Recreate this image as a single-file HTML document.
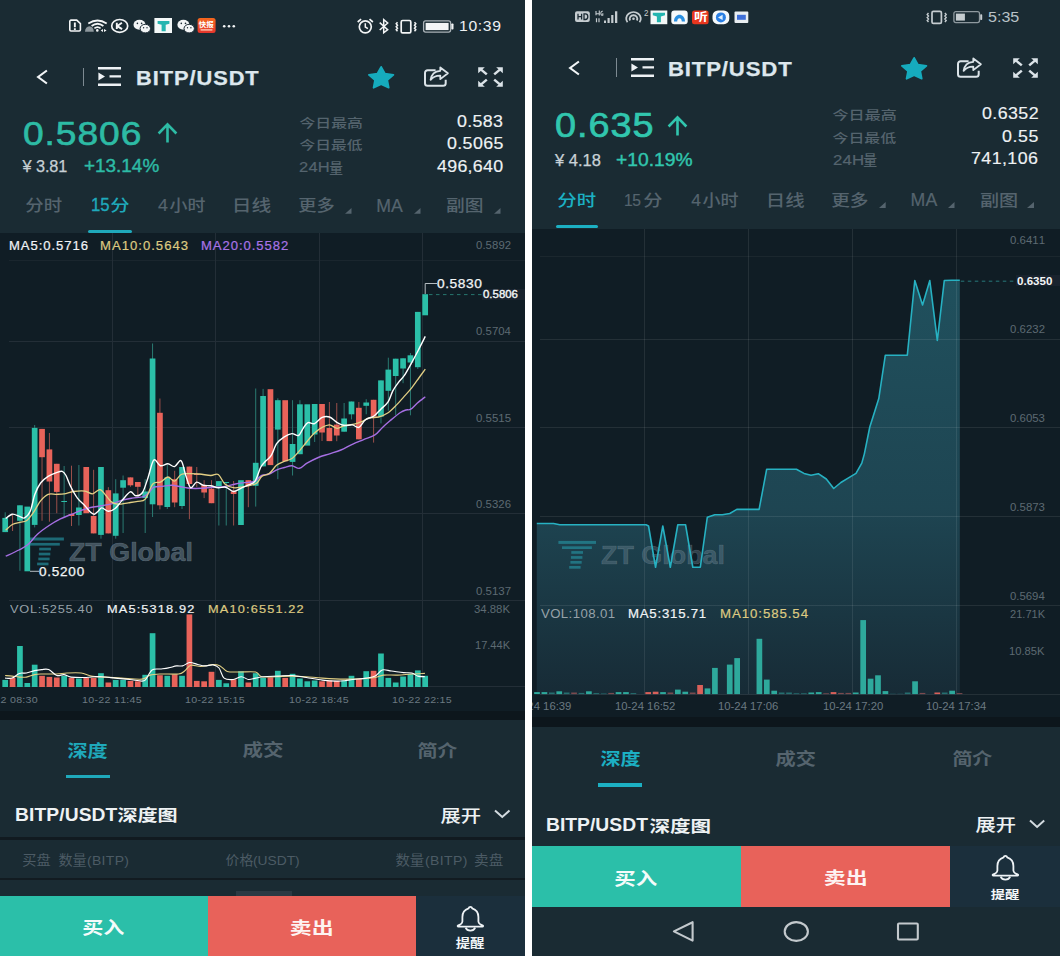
<!DOCTYPE html>
<html lang="zh"><head><meta charset="utf-8"><title>BITP/USDT</title>
<style>
html,body{margin:0;padding:0}
body{width:1060px;height:956px;position:relative;overflow:hidden;background:#fff;font-family:"Liberation Sans",sans-serif;font-kerning:none}
.phone{position:absolute;top:0;height:956px;overflow:hidden}
.t{position:absolute;white-space:pre;line-height:1;margin:0}
.r,.s,.c{position:absolute;display:block}
.s,.c{overflow:visible}
.c text{font-family:"Liberation Sans","Noto Sans CJK SC",sans-serif}
</style></head>
<body>
<div class="phone" id="left" style="left:0;width:525px">
<div class="r" style="left:0px;top:0px;width:525px;height:956px;background:#1a2b33;"></div>
<svg class="s" style="left:67px;top:18px;" width="170" height="16"><path d="M4 2.100h5.700l3.700 3.500v6.200a1.200 1.200 0 0 1-1.200 1.200H4a1.200 1.200 0 0 1-1.200-1.200V3.300A1.200 1.200 0 0 1 4 2.100z" fill="none" stroke="#f3f5f6" stroke-width="1.600"/><path d="M6.900 4.400h1.900v4.800H6.900zM6.900 10.200h1.900v1.700H6.900z" fill="#f3f5f6"/><g fill="none" stroke="#f3f5f6" stroke-width="1.800"><path d="M21.300 5.400Q30.500-.4 39.700 5.400"/><path d="M24.600 8Q30.500 3.400 36.400 8"/><path d="M27.400 10.400Q30.500 7.800 33.600 10.400" stroke-width="1.600"/></g><circle cx="30.300" cy="12.400" r="1.300" fill="#f3f5f6"/><path d="M18 13.800a4.400 5.600 0 0 1 8.800 0z" fill="#8d979d"/><path d="M36 10.900v3l-2.300-1.500zM37 10.900v3l2.600-1.500z" fill="#f3f5f6"/><ellipse cx="52.700" cy="7.900" rx="8" ry="6.400" fill="none" stroke="#f3f5f6" stroke-width="1.700"/><path d="M49.800 4.700v6.400M54.900 4.700l-4.600 3.400 4.800 3" fill="none" stroke="#f3f5f6" stroke-width="1.900"/><ellipse cx="72.500" cy="6.700" rx="6" ry="5" fill="#f3f5f6"/><ellipse cx="78.300" cy="10.600" rx="5.200" ry="4.300" fill="#f3f5f6" stroke="#1b2a34" stroke-width="1"/><circle cx="70.400" cy="5.400" r=".8" fill="#1b2a34"/><circle cx="74.600" cy="5.400" r=".8" fill="#1b2a34"/><circle cx="76.600" cy="9.700" r=".7" fill="#1b2a34"/><circle cx="80" cy="9.700" r=".7" fill="#1b2a34"/><rect x="87.400" y="0" width="17.600" height="15" fill="#f4f8f8"/><path d="M90.600 3.100h11.800v2.700l-3.700 1v6.400h-4.100V6.800l-4-1z" fill="#25b5b0"/><ellipse cx="116.400" cy="6.700" rx="6" ry="5" fill="#f3f5f6"/><ellipse cx="122.200" cy="10.600" rx="5.200" ry="4.300" fill="#f3f5f6" stroke="#1b2a34" stroke-width="1"/><circle cx="114.300" cy="5.400" r=".8" fill="#1b2a34"/><circle cx="118.500" cy="5.400" r=".8" fill="#1b2a34"/><circle cx="120.500" cy="9.700" r=".7" fill="#1b2a34"/><circle cx="123.900" cy="9.700" r=".7" fill="#1b2a34"/><defs><linearGradient id="og" x1="0" y1="0" x2="0" y2="1"><stop offset="0" stop-color="#f4671d"/><stop offset="1" stop-color="#e5352c"/></linearGradient></defs><rect x="130.600" y="0" width="18" height="15" rx="2.500" fill="url(#og)"/><rect x="133.600" y="11.200" width="11.800" height="1.400" fill="#fbc9b6"/><circle cx="157.200" cy="8.200" r="1.300" fill="#f3f5f6"/><circle cx="162" cy="8.200" r="1.300" fill="#f3f5f6"/><circle cx="166.800" cy="8.200" r="1.300" fill="#f3f5f6"/></svg>
<svg class="s" style="left:356px;top:17px;" width="100" height="18"><circle cx="9.300" cy="9.800" r="6" fill="none" stroke="#f3f5f6" stroke-width="1.700"/><path d="M9.300 6.300v3.700l2.600 1.600" fill="none" stroke="#f3f5f6" stroke-width="1.500"/><path d="M1.700 5l3.400-2.800M16.900 5l-3.400-2.800" stroke="#f3f5f6" stroke-width="1.700"/><path d="M23.700 5.600l8 7-4 3.200V2.700l4 3.300-8 7" fill="none" stroke="#f3f5f6" stroke-width="1.500"/><rect x="45.200" y="3.500" width="9.600" height="12.400" rx="1.400" fill="none" stroke="#f3f5f6" stroke-width="1.700"/><path d="M41.500 5.300l-1.300 1.500 1.300 1.500-1.300 1.500 1.300 1.500-1.300 1.500 1.300 1.500M58.500 5.300l1.300 1.500-1.300 1.500 1.300 1.500-1.300 1.500 1.300 1.500-1.300 1.500" fill="none" stroke="#f3f5f6" stroke-width="1.500"/><rect x="67.600" y="3.900" width="27" height="11.200" rx="2" fill="none" stroke="#aab3b8" stroke-width="1.300"/><rect x="69.600" y="5.900" width="23" height="7.200" fill="#f3f5f6"/><rect x="95.300" y="6.500" width="2.200" height="6" rx=".8" fill="#f3f5f6"/></svg>
<svg class="c" role="img" aria-label="快报" style="left:198.3px;top:20.3px" width="16.600" height="8.600" fill="#fff"><text x="0.870" y="6.940" font-size="7" font-weight="700" textLength="14.900" lengthAdjust="spacingAndGlyphs">快报</text></svg>
<span class="t" style="left:458.6px;top:19px;font-size:14.3px;color:#eef1f3;letter-spacing:0.59px;transform:scaleX(1.100);transform-origin:0 0;">10:39</span>
<svg class="s" style="left:33.8px;top:66.7px;" width="16" height="20"><path d="M12.900 3.500 4.100 10l8.800 6.500" fill="none" stroke="#f2f5f7" stroke-width="2.100"/></svg>
<div class="r" style="left:82.8px;top:67.6px;width:1px;height:18.6px;background:#7d8a92;"></div>
<svg class="s" style="left:98px;top:66.8px;" width="23" height="19"><path d="M0 0h23v2.400H0zM11.500 8.200H23v2.400H11.500zM0 16.500h23v2.400H0zM.4 5.400l6.600 4-6.600 4.100z" fill="#eef2f5"/></svg>
<span class="t" style="left:135.84px;top:68px;font-size:20.4px;color:#dde7ed;letter-spacing:0.88px;font-weight:700;transform:scaleX(1.070);transform-origin:0 0;-webkit-text-stroke:.25px #dde7ed;">BITP/USDT</span>
<svg class="s" style="left:367.7px;top:65.7px;" width="26.3" height="22.6"><polygon points="13.15,0.9 16.94,7.75 25.4,8.84 19.28,14.17 20.72,21.7 13.15,18.15 5.58,21.7 7.02,14.17 0.9,8.84 9.36,7.75" fill="#16abbd" stroke="#16abbd" stroke-width="1.8" stroke-linejoin="round"/></svg>
<svg class="s" style="left:423.5px;top:65.8px;" width="26" height="21"><path d="M11.600 4.300H3.600A2.600 2.600 0 0 0 1 6.900v10.300a2.600 2.600 0 0 0 2.600 2.600h15.500a2.600 2.600 0 0 0 2.600-2.600v-3.400" fill="none" stroke="#dbe3e8" stroke-width="2"/><path d="M16.300 1.500l7.600 5.800-7.600 5.800v-3.500c-4.200-.1-7.200 1.100-9.700 4.300.7-5.300 4-8.700 9.700-9.100z" fill="none" stroke="#dbe3e8" stroke-width="1.800" stroke-linejoin="round"/></svg>
<svg class="s" style="left:478.3px;top:67px;" width="25" height="20"><g fill="#dbe3e8" stroke="#dbe3e8" stroke-width="2.500"><path d="M2.800 2.400l6 5" fill="none"/><path d="M.2.200h6.600L.2 6.300z" stroke="none"/><path d="M22.200 2.400l-6 5" fill="none"/><path d="M24.800.2h-6.600l6.600 6.100z" stroke="none"/><path d="M2.800 17.600l6-5" fill="none"/><path d="M.2 19.800h6.600L.2 13.700z" stroke="none"/><path d="M22.200 17.600l-6-5" fill="none"/><path d="M24.800 19.800h-6.600l6.600-6.100z" stroke="none"/></g></svg>
<span class="t" style="left:23.05px;top:117px;font-size:33.8px;color:#2dbba5;letter-spacing:0.85px;transform:scaleX(1.100);transform-origin:0 0;-webkit-text-stroke:.65px #2dbba5;">0.5806</span>
<svg class="s" style="left:156.6px;top:121.6px;" width="21" height="21.4"><path d="M10.500 20.600V2.600M1.600 11.500L10.500 2.400 19.400 11.500" fill="none" stroke="#2dbba5" stroke-width="2.600"/></svg>
<span class="t" style="left:22.62px;top:158px;font-size:16.3px;color:#c7d0d5;letter-spacing:-0.11px;-webkit-text-stroke:.25px #c7d0d5;">¥ 3.81</span>
<span class="t" style="left:83.88px;top:158px;font-size:17.5px;color:#2dbba5;transform:scaleX(1.081);transform-origin:0 0;-webkit-text-stroke:.4px #2dbba5;">+13.14%</span>
<svg class="c" role="img" aria-label="今日最高" style="left:298.8px;top:116px" width="64" height="13.600" fill="#55646e"><text x="0.520" y="11.520" font-size="12.300" font-weight="500" textLength="63.400" lengthAdjust="spacingAndGlyphs">今日最高</text></svg>
<svg class="c" role="img" aria-label="今日最低" style="left:298.8px;top:138.4px" width="64" height="13.600" fill="#55646e"><text x="0.530" y="11.500" font-size="12.300" font-weight="500" textLength="62.900" lengthAdjust="spacingAndGlyphs">今日最低</text></svg>
<span class="t" style="left:299.17px;top:159px;font-size:15px;color:#55646e;letter-spacing:0.23px;transform:scaleX(1.100);transform-origin:0 0;-webkit-text-stroke:.2px #55646e;">24H</span>
<svg class="c" role="img" aria-label="量" style="left:329.3px;top:160.6px" width="14.500" height="13.400" fill="#55646e"><text x="0.370" y="11.620" font-size="13.100" font-weight="500" textLength="13.700" lengthAdjust="spacingAndGlyphs">量</text></svg>
<span class="t" style="left:457.1px;top:113px;font-size:16.2px;color:#eef2f4;letter-spacing:0.31px;transform:scaleX(1.100);transform-origin:0 0;-webkit-text-stroke:.15px #eef2f4;">0.583</span>
<span class="t" style="left:446.6px;top:135px;font-size:16.2px;color:#eef2f4;letter-spacing:0.35px;transform:scaleX(1.100);transform-origin:0 0;-webkit-text-stroke:.15px #eef2f4;">0.5065</span>
<span class="t" style="left:436.89px;top:158px;font-size:16.2px;color:#eef2f4;letter-spacing:0.26px;transform:scaleX(1.100);transform-origin:0 0;-webkit-text-stroke:.15px #eef2f4;">496,640</span>
<svg class="c" role="img" aria-label="分时" style="left:25.3px;top:197px" width="37.500" height="16.400" fill="#55646e"><text x="0.280" y="14.050" font-size="15.600" font-weight="500" textLength="36.800" lengthAdjust="spacingAndGlyphs">分时</text></svg>
<span class="t" style="left:90.73px;top:197px;font-size:17.7px;color:#1fa9bb;transform:scaleX(0.943);transform-origin:0 0;-webkit-text-stroke:.35px #1fa9bb;">15</span>
<svg class="c" role="img" aria-label="分" style="left:110.3px;top:197px" width="19.900" height="16.400" fill="#1fa9bb"><text x="0.250" y="14.030" font-size="15.700" font-weight="500" textLength="19.300" lengthAdjust="spacingAndGlyphs">分</text></svg>
<span class="t" style="left:158.39px;top:197px;font-size:17.4px;color:#55646e;transform:scaleX(1.026);transform-origin:0 0;-webkit-text-stroke:.2px #55646e;">4</span>
<svg class="c" role="img" aria-label="小时" style="left:169.2px;top:197px" width="36.800" height="16.400" fill="#55646e"><text x="0.500" y="14.090" font-size="15.600" font-weight="500" textLength="35.900" lengthAdjust="spacingAndGlyphs">小时</text></svg>
<svg class="c" role="img" aria-label="日线" style="left:234.3px;top:197px" width="37.500" height="16.400" fill="#55646e"><text x="-2.290" y="14.130" font-size="15.500" font-weight="500" textLength="39.400" lengthAdjust="spacingAndGlyphs">日线</text></svg>
<svg class="c" role="img" aria-label="更多" style="left:298.3px;top:197px" width="36.700" height="16.400" fill="#55646e"><text x="0.220" y="14.070" font-size="15.400" font-weight="500" textLength="36.400" lengthAdjust="spacingAndGlyphs">更多</text></svg>
<span class="t" style="left:376.35px;top:198px;font-size:17.7px;color:#55646e;letter-spacing:-0.06px;-webkit-text-stroke:.2px #55646e;">MA</span>
<svg class="c" role="img" aria-label="副图" style="left:446.3px;top:197px" width="37" height="16.400" fill="#55646e"><text x="0.010" y="14.050" font-size="15.800" font-weight="500" textLength="37.500" lengthAdjust="spacingAndGlyphs">副图</text></svg>
<svg class="s" style="left:344.5px;top:207.5px;" width="6.5" height="5.7"><path d="M6.500 0V5.700H0Z" fill="#55646e"/></svg>
<svg class="s" style="left:414px;top:207.5px;" width="6.5" height="5.7"><path d="M6.500 0V5.700H0Z" fill="#55646e"/></svg>
<svg class="s" style="left:493.5px;top:207.5px;" width="6.5" height="5.7"><path d="M6.500 0V5.700H0Z" fill="#55646e"/></svg>
<div class="r" style="left:88px;top:230.2px;width:44px;height:3px;background:#1fa9bb;border-radius:1.5px;"></div>
<div class="r" style="left:0px;top:233px;width:525px;height:478.2px;background:#101d25;"></div>
<div class="r" style="left:0px;top:711.2px;width:525px;height:8.8px;background:#0d161c;"></div>
<svg class="s" style="left:0px;top:233px;" width="525" height="478" viewBox="0 233 525 478"><g stroke="#232e37" stroke-width="1" shape-rendering="crispEdges"><path d="M112 233V686.8"/><path d="M215.500 233V686.8"/><path d="M319.200 233V686.8"/><path d="M422.300 233V686.8"/><path d="M8.500 341H525"/><path d="M8.500 427.300H525"/><path d="M8.500 513.600H525"/><path d="M8.500 600.300H525"/><path d="M8.500 686.800H525"/><path d="M8.500 260.300H525" opacity=".55"/></g><rect x="26.300" y="537.500" width="37.600" height="3" fill="rgba(40,170,185,0.55)"/><rect x="29.900" y="542.900" width="29.900" height="2.700" fill="rgba(40,170,185,0.55)"/><rect x="39.200" y="547.700" width="11.700" height="2.700" fill="rgba(40,170,185,0.55)"/><rect x="38.800" y="552.700" width="11.500" height="2.700" fill="rgba(40,170,185,0.55)"/><rect x="38.300" y="557.600" width="11.300" height="2.700" fill="rgba(40,170,185,0.55)"/><rect x="37.100" y="562.600" width="11.400" height="2.700" fill="rgba(40,170,185,0.55)"/><text x="68.900" y="561.100" font-family="Liberation Sans, sans-serif" font-weight="700" font-size="25.500" textLength="124" lengthAdjust="spacingAndGlyphs" fill="rgba(140,160,175,0.42)" stroke="rgba(140,160,175,0.42)" stroke-width=".6">ZT Global</text><path d="M5.200 512.300V532.100" stroke="#2a7a72" stroke-width="1"/><rect x="2.350" y="517.900" width="5.700" height="14.200" fill="#2bbfa8"/><path d="M12.570 515V531" stroke="#9a4f4a" stroke-width="1"/><path d="M19.940 505.300V570.800" stroke="#2a7a72" stroke-width="1"/><rect x="17.090" y="505.300" width="5.700" height="15.500" fill="#2bbfa8"/><rect x="24.450" y="506.600" width="5.700" height="64.700" fill="#2bbfa8"/><path d="M34.670 425V527.400" stroke="#2a7a72" stroke-width="1"/><rect x="31.820" y="427.900" width="5.700" height="97" fill="#2bbfa8"/><path d="M42.040 428.900V520.800" stroke="#9a4f4a" stroke-width="1"/><rect x="39.190" y="428.900" width="5.700" height="28.300" fill="#e8635a"/><path d="M49.410 433V521.700" stroke="#9a4f4a" stroke-width="1"/><rect x="46.560" y="449.400" width="5.700" height="32.100" fill="#e8635a"/><path d="M56.780 463.800V513.200" stroke="#9a4f4a" stroke-width="1"/><rect x="53.930" y="463.800" width="5.700" height="28.100" fill="#e8635a"/><path d="M64.140 466V517" stroke="#2a7a72" stroke-width="1"/><rect x="61.290" y="501" width="5.700" height="1" fill="#2bbfa8"/><path d="M71.510 465.700V526" stroke="#9a4f4a" stroke-width="1"/><rect x="68.660" y="514" width="5.700" height="2" fill="#e8635a"/><path d="M78.880 465V525.500" stroke="#2a7a72" stroke-width="1"/><rect x="76.030" y="507.500" width="5.700" height="7.500" fill="#2bbfa8"/><rect x="83.400" y="467" width="5.700" height="46.200" fill="#e8635a"/><path d="M93.620 469.800V533.400" stroke="#9a4f4a" stroke-width="1"/><rect x="90.770" y="516" width="5.700" height="17.400" fill="#e8635a"/><path d="M100.980 467V538.700" stroke="#2a7a72" stroke-width="1"/><rect x="98.130" y="467" width="5.700" height="67.900" fill="#2bbfa8"/><path d="M108.350 487.200V533.400" stroke="#9a4f4a" stroke-width="1"/><rect x="105.500" y="490.200" width="5.700" height="43.200" fill="#e8635a"/><path d="M115.720 479.200V538.700" stroke="#2a7a72" stroke-width="1"/><rect x="112.870" y="493.400" width="5.700" height="42.400" fill="#2bbfa8"/><path d="M123.090 475.500V533" stroke="#2a7a72" stroke-width="1"/><rect x="120.240" y="480.200" width="5.700" height="7.500" fill="#2bbfa8"/><path d="M130.460 477.400V486.800" stroke="#9a4f4a" stroke-width="1"/><rect x="127.610" y="477.400" width="5.700" height="7.900" fill="#e8635a"/><path d="M137.820 482V496.200" stroke="#9a4f4a" stroke-width="1"/><rect x="134.970" y="482" width="5.700" height="4.800" fill="#e8635a"/><path d="M145.190 479.200V533" stroke="#2a7a72" stroke-width="1"/><rect x="142.340" y="491.500" width="5.700" height="6.500" fill="#2bbfa8"/><path d="M152.560 343.500V517" stroke="#2a7a72" stroke-width="1"/><rect x="149.710" y="358.500" width="5.700" height="145.800" fill="#2bbfa8"/><path d="M159.930 398.500V509.400" stroke="#9a4f4a" stroke-width="1"/><rect x="157.080" y="412.800" width="5.700" height="92.500" fill="#e8635a"/><path d="M167.300 465V509" stroke="#2a7a72" stroke-width="1"/><rect x="164.450" y="477.400" width="5.700" height="29.600" fill="#2bbfa8"/><path d="M174.660 470.800V507.200" stroke="#9a4f4a" stroke-width="1"/><rect x="171.810" y="479.200" width="5.700" height="23.300" fill="#e8635a"/><path d="M182.030 467V509" stroke="#2a7a72" stroke-width="1"/><rect x="179.180" y="467" width="5.700" height="39" fill="#2bbfa8"/><path d="M189.400 466.600V519.200" stroke="#9a4f4a" stroke-width="1"/><rect x="186.550" y="466.600" width="5.700" height="17.400" fill="#e8635a"/><path d="M196.770 467V487" stroke="#9a4f4a" stroke-width="1"/><rect x="193.920" y="474" width="5.700" height="1" fill="#e8635a"/><path d="M204.140 480.200V498.100" stroke="#9a4f4a" stroke-width="1"/><rect x="201.290" y="485.300" width="5.700" height="7.200" fill="#e8635a"/><path d="M211.500 480.200V503.200" stroke="#9a4f4a" stroke-width="1"/><rect x="208.650" y="488.700" width="5.700" height="14.500" fill="#e8635a"/><path d="M218.870 481.100V525.500" stroke="#2a7a72" stroke-width="1"/><rect x="216.020" y="481.100" width="5.700" height="5.300" fill="#2bbfa8"/><path d="M226.240 482V525.500" stroke="#2a7a72" stroke-width="1"/><rect x="223.390" y="482" width="5.700" height="1" fill="#2bbfa8"/><path d="M233.610 481V525.500" stroke="#9a4f4a" stroke-width="1"/><rect x="230.760" y="491.500" width="5.700" height="2.500" fill="#e8635a"/><rect x="238.130" y="480.200" width="5.700" height="44.800" fill="#2bbfa8"/><path d="M248.340 480.200V507.200" stroke="#9a4f4a" stroke-width="1"/><rect x="245.490" y="480.200" width="5.700" height="4.800" fill="#e8635a"/><path d="M255.710 388.500V506.600" stroke="#2a7a72" stroke-width="1"/><rect x="252.860" y="462.800" width="5.700" height="23" fill="#2bbfa8"/><path d="M263.080 388.900V466.400" stroke="#2a7a72" stroke-width="1"/><rect x="260.230" y="396" width="5.700" height="70.400" fill="#2bbfa8"/><rect x="267.600" y="389.200" width="5.700" height="75.900" fill="#e8635a"/><path d="M277.820 398.300V479.200" stroke="#2a7a72" stroke-width="1"/><rect x="274.970" y="400.200" width="5.700" height="29.400" fill="#2bbfa8"/><rect x="282.330" y="400.200" width="5.700" height="61.100" fill="#e8635a"/><path d="M292.550 400.200V475.500" stroke="#2a7a72" stroke-width="1"/><rect x="289.700" y="444" width="5.700" height="17.900" fill="#2bbfa8"/><path d="M299.920 400.200V454.200" stroke="#2a7a72" stroke-width="1"/><rect x="297.070" y="404.300" width="5.700" height="49.900" fill="#2bbfa8"/><rect x="304.440" y="404.300" width="5.700" height="41.300" fill="#2bbfa8"/><path d="M314.660 404V442" stroke="#2a7a72" stroke-width="1"/><rect x="311.810" y="404" width="5.700" height="30.500" fill="#2bbfa8"/><path d="M322.020 404V441" stroke="#9a4f4a" stroke-width="1"/><rect x="319.170" y="404" width="5.700" height="28.500" fill="#e8635a"/><path d="M329.390 402V441.100" stroke="#9a4f4a" stroke-width="1"/><rect x="326.540" y="428" width="5.700" height="13.100" fill="#e8635a"/><path d="M336.760 403V441.200" stroke="#9a4f4a" stroke-width="1"/><rect x="333.910" y="424.600" width="5.700" height="10.900" fill="#e8635a"/><path d="M344.130 403V431.700" stroke="#2a7a72" stroke-width="1"/><rect x="341.280" y="418.500" width="5.700" height="13.200" fill="#2bbfa8"/><path d="M351.500 401.500V419.400" stroke="#2a7a72" stroke-width="1"/><rect x="348.650" y="401.500" width="5.700" height="12.800" fill="#2bbfa8"/><path d="M358.860 402V439.300" stroke="#9a4f4a" stroke-width="1"/><rect x="356.010" y="407.800" width="5.700" height="31.500" fill="#e8635a"/><path d="M366.230 399.200V414.300" stroke="#2a7a72" stroke-width="1"/><rect x="363.380" y="402.500" width="5.700" height="3.300" fill="#2bbfa8"/><path d="M373.600 399.800V442.600" stroke="#9a4f4a" stroke-width="1"/><rect x="370.750" y="399.800" width="5.700" height="16.800" fill="#e8635a"/><path d="M380.970 380.400V423.400" stroke="#2a7a72" stroke-width="1"/><rect x="378.120" y="380.400" width="5.700" height="36.200" fill="#2bbfa8"/><path d="M388.340 357.700V410.600" stroke="#2a7a72" stroke-width="1"/><rect x="385.490" y="369.600" width="5.700" height="21.200" fill="#2bbfa8"/><path d="M395.700 358.700V415.300" stroke="#2a7a72" stroke-width="1"/><rect x="392.850" y="358.700" width="5.700" height="17.300" fill="#2bbfa8"/><path d="M403.070 358.300V383.200" stroke="#2a7a72" stroke-width="1"/><rect x="400.220" y="358.300" width="5.700" height="10.200" fill="#2bbfa8"/><path d="M410.440 353V415.300" stroke="#2a7a72" stroke-width="1"/><rect x="407.590" y="355.300" width="5.700" height="7.200" fill="#2bbfa8"/><path d="M417.810 311.900V369" stroke="#2a7a72" stroke-width="1"/><rect x="414.960" y="311.900" width="5.700" height="55.300" fill="#2bbfa8"/><rect x="422.330" y="294.200" width="5.700" height="21.100" fill="#2bbfa8"/><rect x="2.350" y="679.900" width="5.700" height="7.100" fill="#2bbfa8"/><rect x="9.720" y="677.900" width="5.700" height="9.100" fill="#e8635a"/><rect x="17.090" y="646" width="5.700" height="41" fill="#2bbfa8"/><rect x="24.450" y="683" width="5.700" height="4" fill="#2bbfa8"/><rect x="31.820" y="664.700" width="5.700" height="22.300" fill="#2bbfa8"/><rect x="39.190" y="675.800" width="5.700" height="11.200" fill="#e8635a"/><rect x="46.560" y="676.900" width="5.700" height="10.100" fill="#e8635a"/><rect x="53.930" y="677.500" width="5.700" height="9.500" fill="#e8635a"/><rect x="61.290" y="675.800" width="5.700" height="11.200" fill="#2bbfa8"/><rect x="68.660" y="677.900" width="5.700" height="9.100" fill="#e8635a"/><rect x="76.030" y="678.500" width="5.700" height="8.500" fill="#2bbfa8"/><rect x="83.400" y="677.900" width="5.700" height="9.100" fill="#e8635a"/><rect x="90.770" y="677.900" width="5.700" height="9.100" fill="#e8635a"/><rect x="98.130" y="673.200" width="5.700" height="13.800" fill="#2bbfa8"/><rect x="105.500" y="682.500" width="5.700" height="4.500" fill="#e8635a"/><rect x="112.870" y="679.900" width="5.700" height="7.100" fill="#2bbfa8"/><rect x="120.240" y="679.900" width="5.700" height="7.100" fill="#2bbfa8"/><rect x="127.610" y="680.900" width="5.700" height="6.100" fill="#e8635a"/><rect x="134.970" y="681.300" width="5.700" height="5.700" fill="#e8635a"/><rect x="142.340" y="674.800" width="5.700" height="12.200" fill="#2bbfa8"/><rect x="149.710" y="633.200" width="5.700" height="53.800" fill="#2bbfa8"/><rect x="157.080" y="675.200" width="5.700" height="11.800" fill="#e8635a"/><rect x="164.450" y="675.800" width="5.700" height="11.200" fill="#2bbfa8"/><rect x="171.810" y="674.400" width="5.700" height="12.600" fill="#e8635a"/><rect x="179.180" y="675.800" width="5.700" height="11.200" fill="#2bbfa8"/><rect x="186.550" y="614.400" width="5.700" height="72.600" fill="#e8635a"/><rect x="193.920" y="680.900" width="5.700" height="6.100" fill="#e8635a"/><rect x="201.290" y="681.300" width="5.700" height="5.700" fill="#e8635a"/><rect x="208.650" y="671.800" width="5.700" height="15.200" fill="#e8635a"/><rect x="216.020" y="679.900" width="5.700" height="7.100" fill="#2bbfa8"/><rect x="223.390" y="683.300" width="5.700" height="3.700" fill="#2bbfa8"/><rect x="230.760" y="679.300" width="5.700" height="7.700" fill="#e8635a"/><rect x="238.130" y="671.200" width="5.700" height="15.800" fill="#2bbfa8"/><rect x="245.490" y="682.500" width="5.700" height="4.500" fill="#e8635a"/><rect x="252.860" y="673.200" width="5.700" height="13.800" fill="#2bbfa8"/><rect x="260.230" y="677.900" width="5.700" height="9.100" fill="#2bbfa8"/><rect x="267.600" y="677.300" width="5.700" height="9.700" fill="#e8635a"/><rect x="274.970" y="670.800" width="5.700" height="16.200" fill="#2bbfa8"/><rect x="282.330" y="677.900" width="5.700" height="9.100" fill="#e8635a"/><rect x="289.700" y="673.800" width="5.700" height="13.200" fill="#2bbfa8"/><rect x="297.070" y="678.500" width="5.700" height="8.500" fill="#2bbfa8"/><rect x="304.440" y="681.300" width="5.700" height="5.700" fill="#2bbfa8"/><rect x="311.810" y="680.500" width="5.700" height="6.500" fill="#2bbfa8"/><rect x="319.170" y="681.300" width="5.700" height="5.700" fill="#e8635a"/><rect x="326.540" y="680.500" width="5.700" height="6.500" fill="#e8635a"/><rect x="333.910" y="680.900" width="5.700" height="6.100" fill="#e8635a"/><rect x="341.280" y="680.500" width="5.700" height="6.500" fill="#2bbfa8"/><rect x="348.650" y="675.800" width="5.700" height="11.200" fill="#2bbfa8"/><rect x="356.010" y="678.900" width="5.700" height="8.100" fill="#e8635a"/><rect x="363.380" y="671.200" width="5.700" height="15.800" fill="#2bbfa8"/><rect x="370.750" y="670.800" width="5.700" height="16.200" fill="#e8635a"/><rect x="378.120" y="653.500" width="5.700" height="33.500" fill="#2bbfa8"/><rect x="385.490" y="677.900" width="5.700" height="9.100" fill="#2bbfa8"/><rect x="392.850" y="682.500" width="5.700" height="4.500" fill="#2bbfa8"/><rect x="400.220" y="676.500" width="5.700" height="10.500" fill="#2bbfa8"/><rect x="407.590" y="673.800" width="5.700" height="13.200" fill="#2bbfa8"/><rect x="414.960" y="670.400" width="5.700" height="16.600" fill="#2bbfa8"/><rect x="422.330" y="675.800" width="5.700" height="11.200" fill="#2bbfa8"/><path d="M5.700 556.200C7.900 555.170 15.130 551.980 18.900 550C22.670 548.020 25.170 546.970 28.300 544.300C31.430 541.630 34.230 537.130 37.700 534C41.170 530.870 45.320 528.020 49.100 525.500C52.880 522.980 56.630 520.780 60.400 518.900C64.170 517.020 68.250 515.620 71.700 514.200C75.150 512.780 77.950 511.520 81.100 510.400C84.250 509.280 87.130 508.280 90.600 507.500C94.070 506.720 98.130 506.380 101.900 505.700C105.670 505.020 109.750 504.350 113.200 503.400C116.650 502.450 119.450 500.880 122.600 500C125.750 499.120 128.630 498.670 132.100 498.100C135.570 497.530 140.570 497.530 143.400 496.600C146.230 495.670 147.370 494.070 149.100 492.500C150.830 490.930 151.600 488.220 153.800 487.200C156 486.180 159.320 486.720 162.300 486.400C165.280 486.080 168.570 485.230 171.700 485.300C174.830 485.370 177.950 486.300 181.100 486.800C184.250 487.300 187.230 488.050 190.600 488.300C193.970 488.550 197.630 488.480 201.300 488.300C204.970 488.120 208.820 487.450 212.600 487.200C216.380 486.950 220.220 487.330 224 486.800C227.780 486.270 231.850 484.700 235.300 484C238.750 483.300 241.550 483.020 244.700 482.600C247.850 482.180 251.370 482.680 254.200 481.500C257.030 480.320 259.200 476.750 261.700 475.500C264.200 474.250 266.680 474.950 269.200 474C271.720 473.050 274.280 470.880 276.800 469.800C279.320 468.720 281.780 468.180 284.300 467.500C286.820 466.820 289.380 465.570 291.900 465.700C294.420 465.830 296.880 468.720 299.400 468.300C301.920 467.880 303.850 465 307 463.200C310.150 461.400 314.530 459.070 318.300 457.500C322.070 455.930 325.830 455.050 329.600 453.800C333.370 452.550 337.120 451.580 340.900 450C344.680 448.420 348.520 446.030 352.300 444.300C356.080 442.570 359.830 441.170 363.600 439.600C367.370 438.030 371.750 436.930 374.900 434.900C378.050 432.870 379.980 429.750 382.500 427.400C385.020 425.050 387.020 423.280 390 420.800C392.980 418.320 397.730 414.300 400.400 412.500C403.070 410.700 404.270 410.550 406 410C407.730 409.450 408.900 410.370 410.800 409.200C412.700 408.030 414.980 405.070 417.400 403C419.820 400.930 423.980 397.830 425.300 396.800" fill="none" stroke="#a66fe3" stroke-width="1.400"/><path d="M5.700 530.200C6.800 529.250 9.950 525.820 12.300 524.500C14.650 523.180 17.450 522.920 19.800 522.300C22.150 521.680 24.200 522.320 26.400 520.800C28.600 519.280 30.630 516.520 33 513.200C35.370 509.880 38.080 504.050 40.600 500.900C43.120 497.750 45.430 495.400 48.100 494.300C50.770 493.200 53.920 494.380 56.600 494.300C59.280 494.220 61.370 494.270 64.200 493.800C67.030 493.330 70.150 491.950 73.600 491.500C77.050 491.050 81.750 490.720 84.900 491.100C88.050 491.480 89.980 494.050 92.500 493.800C95.020 493.550 97.800 489.350 100 489.600C102.200 489.850 103.820 493.250 105.700 495.300C107.580 497.350 109.270 500.420 111.300 501.900C113.330 503.380 115.070 504.050 117.900 504.200C120.730 504.350 125 503.280 128.300 502.800C131.600 502.320 134.870 501.920 137.700 501.300C140.530 500.680 142.780 501.980 145.300 499.100C147.820 496.220 150.280 486.830 152.800 484C155.320 481.170 157.880 483.270 160.400 482.100C162.920 480.930 165.550 477.170 167.900 477C170.250 476.830 172.300 481.520 174.500 481.100C176.700 480.680 178.730 475.750 181.100 474.500C183.470 473.250 185.650 473.680 188.700 473.600C191.750 473.520 195.720 473.680 199.400 474C203.080 474.320 207.650 475.420 210.800 475.500C213.950 475.580 215.950 473.080 218.300 474.500C220.650 475.920 222.380 481.800 224.900 484C227.420 486.200 230.420 487.230 233.400 487.700C236.380 488.170 239.970 487.200 242.800 486.800C245.630 486.400 248.030 485.930 250.400 485.300C252.770 484.670 255.120 484.480 257 483C258.880 481.520 259.670 477.970 261.700 476.400C263.730 474.830 266.680 475.480 269.200 473.600C271.720 471.720 274.280 467.150 276.800 465.100C279.320 463.050 281.780 462.400 284.300 461.300C286.820 460.200 289.380 460.230 291.900 458.500C294.420 456.770 296.880 453.730 299.400 450.900C301.920 448.070 304.480 444.480 307 441.500C309.520 438.520 311.980 435.350 314.500 433C317.020 430.650 319.580 428.750 322.100 427.400C324.620 426.050 327.080 424.750 329.600 424.900C332.120 425.050 334.680 428.200 337.200 428.300C339.720 428.400 341.870 426.180 344.700 425.500C347.530 424.820 351.370 424.830 354.200 424.200C357.030 423.570 359.200 422.750 361.700 421.700C364.200 420.650 366.370 418.680 369.200 417.900C372.030 417.120 375.550 417.850 378.700 417C381.850 416.150 385.120 414.820 388.100 412.800C391.080 410.780 393.920 407.630 396.600 404.900C399.280 402.170 401.680 399.230 404.200 396.400C406.720 393.570 409.200 391.050 411.700 387.900C414.200 384.750 416.930 380.630 419.200 377.500C421.470 374.370 424.280 370.500 425.300 369.100" fill="none" stroke="#e2cf84" stroke-width="1.300"/><path d="M5.700 518.500C6.800 517.780 9.950 514.520 12.300 514.200C14.650 513.880 17.770 515.980 19.800 516.600C21.830 517.220 22.770 518.780 24.500 517.900C26.230 517.020 28.470 515.230 30.200 511.300C31.930 507.370 33.170 499.020 34.900 494.300C36.630 489.580 38.400 485.980 40.600 483C42.800 480.020 45.430 478.130 48.100 476.400C50.770 474.670 54.230 473.450 56.600 472.600C58.970 471.750 60.730 470.820 62.300 471.300C63.870 471.780 64.580 472.920 66 475.500C67.420 478.080 68.900 483.030 70.800 486.800C72.700 490.570 75.050 494.950 77.400 498.100C79.750 501.250 82.700 503.330 84.900 505.700C87.100 508.070 89.030 510.880 90.600 512.300C92.170 513.720 93.050 514.370 94.300 514.200C95.550 514.030 96.830 512.350 98.100 511.300C99.370 510.250 100.170 507.900 101.900 507.900C103.630 507.900 106.300 511.200 108.500 511.300C110.700 511.400 112.900 510.230 115.100 508.500C117.300 506.770 119.180 503.670 121.700 500.900C124.220 498.130 127.850 492.750 130.200 491.900C132.550 491.050 133.750 495.700 135.800 495.800C137.850 495.900 140.450 495.570 142.500 492.500C144.550 489.430 146.220 482.820 148.100 477.400C149.980 471.980 151.750 461.950 153.800 460C155.850 458.050 158.050 465.070 160.400 465.700C162.750 466.330 165.550 463.650 167.900 463.800C170.250 463.950 172.300 467.100 174.500 466.600C176.700 466.100 179.220 459.320 181.100 460.800C182.980 462.280 184.220 471.020 185.800 475.500C187.380 479.980 188.800 486.600 190.600 487.700C192.400 488.800 194.500 482.500 196.600 482.100C198.700 481.700 200.830 484.680 203.200 485.300C205.570 485.920 208.280 485.400 210.800 485.800C213.320 486.200 215.800 487.470 218.300 487.700C220.800 487.930 223.280 486.570 225.800 487.200C228.320 487.830 230.880 491.320 233.400 491.500C235.920 491.680 238.380 489.400 240.900 488.300C243.420 487.200 246.130 486.100 248.500 484.900C250.870 483.700 253.050 484.080 255.100 481.100C257.150 478.120 259.070 470.300 260.800 467C262.530 463.700 263.780 463.180 265.500 461.300C267.220 459.420 269.220 458.680 271.100 455.700C272.980 452.720 274.600 446.550 276.800 443.400C279 440.250 281.780 438.430 284.300 436.800C286.820 435.170 289.530 433.820 291.900 433.600C294.270 433.380 296.620 436.380 298.500 435.500C300.380 434.620 301.630 430.450 303.200 428.300C304.770 426.150 306.020 423.380 307.900 422.600C309.780 421.820 312.130 424.470 314.500 423.600C316.870 422.730 319.580 418.500 322.100 417.400C324.620 416.300 327.080 416.130 329.600 417C332.120 417.870 334.680 421.180 337.200 422.600C339.720 424.020 342.180 425.120 344.700 425.500C347.220 425.880 349.930 424.580 352.300 424.900C354.670 425.220 356.700 428.250 358.900 427.400C361.100 426.550 362.980 421.700 365.500 419.800C368.020 417.900 371.480 417.730 374 416C376.520 414.270 378.250 411.750 380.600 409.400C382.950 407.050 386.070 405 388.100 401.900C390.130 398.800 391.070 394.070 392.800 390.800C394.530 387.530 396.600 384.820 398.500 382.300C400.400 379.780 402.150 378.700 404.200 375.700C406.250 372.700 408.450 368.550 410.800 364.300C413.150 360.050 415.880 354.850 418.300 350.200C420.720 345.550 424.130 338.700 425.300 336.400" fill="none" stroke="#ffffff" stroke-width="1.400"/><path d="M5.100 675.500C6.280 675.600 9.830 675.830 12.200 676.100C14.570 676.370 16.930 676.930 19.300 677.100C21.670 677.270 23.870 677.520 26.400 677.100C28.930 676.680 31.970 675.120 34.500 674.600C37.030 674.080 37.880 674.100 41.600 674C45.320 673.900 52.580 674.170 56.800 674C61.020 673.830 62.850 673.170 66.900 673C70.950 672.830 77.030 672.480 81.100 673C85.170 673.520 87.230 675.420 91.300 676.100C95.370 676.780 100.430 676.770 105.500 677.100C110.570 677.430 115.620 677.770 121.700 678.100C127.780 678.430 137.270 679.600 142 679.100C146.730 678.600 147.070 675.950 150.100 675.100C153.130 674.250 155.470 674.180 160.200 674C164.930 673.820 174.430 674.500 178.500 674C182.570 673.500 182.570 672.450 184.600 671C186.630 669.550 188 666.050 190.700 665.300C193.400 664.550 197.080 666.630 200.800 666.500C204.520 666.370 209.780 664.600 213 664.500C216.220 664.400 217.730 664.750 220.100 665.900C222.470 667.050 224 670.380 227.200 671.400C230.400 672.420 234.570 671.900 239.300 672C244.030 672.100 251.870 671.220 255.600 672C259.330 672.780 258.320 675.920 261.700 676.700C265.080 677.480 270.830 676.800 275.900 676.700C280.970 676.600 287.030 676.100 292.100 676.100C297.170 676.100 301.230 676.370 306.300 676.700C311.370 677.030 316.080 677.700 322.500 678.100C328.920 678.500 338.380 679 344.800 679.100C351.220 679.200 355.930 678.970 361 678.700C366.070 678.430 371.470 678.100 375.200 677.500C378.930 676.900 379.670 675.500 383.400 675.100C387.130 674.700 392.870 675.280 397.600 675.100C402.330 674.920 407.250 674.280 411.800 674C416.350 673.720 422.720 673.500 424.900 673.400" fill="none" stroke="#e2cf84" stroke-width="1.100"/><path d="M5.100 678.100C6.280 678.100 9.830 678.880 12.200 678.100C14.570 677.320 16.930 674.250 19.300 673.400C21.670 672.550 23.870 673.470 26.400 673C28.930 672.530 31.970 671.170 34.500 670.600C37.030 670.030 39.230 669.770 41.600 669.600C43.970 669.430 46.170 668.620 48.700 669.600C51.230 670.580 54.270 674.670 56.800 675.500C59.330 676.330 61.530 674.330 63.900 674.600C66.270 674.870 67.280 676.620 71 677.100C74.720 677.580 82.320 677.570 86.200 677.500C90.080 677.430 91.770 676.830 94.300 676.700C96.830 676.570 97.850 676.470 101.400 676.700C104.950 676.930 110.870 677.630 115.600 678.100C120.330 678.570 125.400 679 129.800 679.500C134.200 680 139.300 681.170 142 681.100C144.700 681.030 144.320 680.950 146 679.100C147.680 677.250 149.730 671.680 152.100 670C154.470 668.320 157.480 669.350 160.200 669C162.920 668.650 165.680 668.420 168.400 667.900C171.120 667.380 174.130 666.230 176.500 665.900C178.870 665.570 180.400 666.470 182.600 665.900C184.800 665.330 187.170 662.730 189.700 662.500C192.230 662.270 195.270 663.930 197.800 664.500C200.330 665.070 202.370 665.830 204.900 665.900C207.430 665.970 210.650 664.550 213 664.900C215.350 665.250 217.150 665.800 219 668C220.850 670.200 221.720 676.180 224.100 678.100C226.480 680.020 230.420 679.730 233.300 679.500C236.180 679.270 238.870 676.700 241.400 676.700C243.930 676.700 246.130 679.270 248.500 679.500C250.870 679.730 253.070 678.570 255.600 678.100C258.130 677.630 259.980 677.030 263.700 676.700C267.420 676.370 273.170 676.300 277.900 676.100C282.630 675.900 287.370 675.270 292.100 675.500C296.830 675.730 301.230 676.730 306.300 677.500C311.370 678.270 317.430 679.500 322.500 680.100C327.570 680.700 332.980 681 336.700 681.100C340.420 681.200 342.100 680.970 344.800 680.700C347.500 680.430 349.350 679.930 352.900 679.500C356.450 679.070 362.380 678.670 366.100 678.100C369.820 677.530 372.500 677.450 375.200 676.100C377.900 674.750 379.580 670.850 382.300 670C385.020 669.150 387.950 670.570 391.500 671C395.050 671.430 400.220 672.270 403.600 672.600C406.980 672.930 409.430 672.420 411.800 673C414.170 673.580 415.620 675.480 417.800 676.100C419.980 676.720 423.720 676.600 424.900 676.700" fill="none" stroke="#ffffff" stroke-width="1.100"/><path d="M425.200 294V283.500H437" fill="none" stroke="#b4bcc1" stroke-width="1"/><path d="M30 571.300H39" fill="none" stroke="#b4bcc1" stroke-width="1"/><path d="M429 294.600H483" fill="none" stroke="#27776f" stroke-width="1" stroke-dasharray="3.500 3.500"/></svg>
<span class="t" style="left:8.73px;top:241px;font-size:11.9px;color:#f0f3f5;letter-spacing:0.86px;transform:scaleX(1.100);transform-origin:0 0;-webkit-text-stroke:.2px #f0f3f5;">MA5:0.5716</span>
<span class="t" style="left:100.23px;top:241px;font-size:11.9px;color:#dcc981;letter-spacing:0.93px;transform:scaleX(1.100);transform-origin:0 0;-webkit-text-stroke:.2px #dcc981;">MA10:0.5643</span>
<span class="t" style="left:201.23px;top:241px;font-size:11.9px;color:#a874e6;letter-spacing:0.85px;transform:scaleX(1.100);transform-origin:0 0;-webkit-text-stroke:.2px #a874e6;">MA20:0.5582</span>
<span class="t" style="left:475.76px;top:241px;font-size:10.3px;color:#5d6a72;letter-spacing:0.08px;transform:scaleX(1.100);transform-origin:0 0;">0.5892</span>
<span class="t" style="left:475.76px;top:327px;font-size:10.3px;color:#5d6a72;letter-spacing:0.04px;transform:scaleX(1.100);transform-origin:0 0;">0.5704</span>
<span class="t" style="left:475.75px;top:413px;font-size:10.6px;color:#5d6a72;transform:scaleX(1.080);transform-origin:0 0;">0.5515</span>
<span class="t" style="left:475.76px;top:500px;font-size:10.3px;color:#5d6a72;letter-spacing:0.07px;transform:scaleX(1.100);transform-origin:0 0;">0.5326</span>
<span class="t" style="left:475.75px;top:586px;font-size:10.6px;color:#5d6a72;transform:scaleX(1.083);transform-origin:0 0;">0.5137</span>
<span class="t" style="left:474.37px;top:604px;font-size:10.6px;color:#5d6a72;transform:scaleX(1.073);transform-origin:0 0;">34.88K</span>
<span class="t" style="left:475.36px;top:640px;font-size:10.8px;color:#5d6a72;transform:scaleX(1.024);transform-origin:0 0;">17.44K</span>
<span class="t" style="left:437.36px;top:278px;font-size:12.5px;color:#f2f5f6;letter-spacing:0.51px;transform:scaleX(1.100);transform-origin:0 0;-webkit-text-stroke:.25px #f2f5f6;">0.5830</span>
<div class="r" style="left:482px;top:289.4px;width:43px;height:10.6px;background:#19232e;"></div>
<span class="t" style="left:482.95px;top:289px;font-size:10.6px;color:#f4f6f7;transform:scaleX(1.078);transform-origin:0 0;-webkit-text-stroke:.35px #f4f6f7;">0.5806</span>
<span class="t" style="left:39.37px;top:566px;font-size:12.3px;color:#f2f5f6;letter-spacing:0.69px;transform:scaleX(1.100);transform-origin:0 0;-webkit-text-stroke:.25px #f2f5f6;">0.5200</span>
<span class="t" style="left:9.74px;top:603px;font-size:11.6px;color:#97a2a9;letter-spacing:0.67px;transform:scaleX(1.100);transform-origin:0 0;">VOL:5255.40</span>
<span class="t" style="left:106.75px;top:603px;font-size:11.6px;color:#f0f3f5;letter-spacing:1.04px;transform:scaleX(1.100);transform-origin:0 0;-webkit-text-stroke:.2px #f0f3f5;">MA5:5318.92</span>
<span class="t" style="left:207.95px;top:603px;font-size:11.6px;color:#dcc981;letter-spacing:1.05px;transform:scaleX(1.100);transform-origin:0 0;-webkit-text-stroke:.2px #dcc981;">MA10:6551.22</span>
<span class="t" style="left:-21.61px;top:695px;font-size:9.7px;color:#6b7981;letter-spacing:0.26px;transform:scaleX(1.100);transform-origin:0 0;">10-22 08:30</span>
<span class="t" style="left:82.39px;top:695px;font-size:9.7px;color:#6b7981;letter-spacing:0.26px;transform:scaleX(1.100);transform-origin:0 0;">10-22 11:45</span>
<span class="t" style="left:185.19px;top:695px;font-size:9.7px;color:#6b7981;letter-spacing:0.26px;transform:scaleX(1.100);transform-origin:0 0;">10-22 15:15</span>
<span class="t" style="left:288.69px;top:695px;font-size:9.7px;color:#6b7981;letter-spacing:0.26px;transform:scaleX(1.100);transform-origin:0 0;">10-22 18:45</span>
<span class="t" style="left:391.79px;top:695px;font-size:9.7px;color:#6b7981;letter-spacing:0.26px;transform:scaleX(1.100);transform-origin:0 0;">10-22 22:15</span>
<svg class="c" role="img" aria-label="深度" style="left:67.2px;top:741px" width="41.100" height="18.200" fill="#1fa9bb"><text x="0.440" y="15.680" font-size="17.100" font-weight="700" textLength="40.200" lengthAdjust="spacingAndGlyphs">深度</text></svg>
<svg class="c" role="img" aria-label="成交" style="left:241.7px;top:741px" width="41.600" height="18.200" fill="#55646e"><text x="0.490" y="15.490" font-size="16.800" font-weight="700" textLength="41" lengthAdjust="spacingAndGlyphs">成交</text></svg>
<svg class="c" role="img" aria-label="简介" style="left:417.2px;top:741px" width="41.100" height="18.200" fill="#55646e"><text x="0.400" y="15.650" font-size="17" font-weight="700" textLength="39.900" lengthAdjust="spacingAndGlyphs">简介</text></svg>
<div class="r" style="left:65.5px;top:774.6px;width:44px;height:3.6px;background:#1fa9bb;"></div>
<span class="t" style="left:14.51px;top:807px;font-size:17.5px;color:#eef2f4;letter-spacing:0.08px;font-weight:700;transform:scaleX(1.100);transform-origin:0 0;">BITP/USDT</span>
<svg class="c" role="img" aria-label="深度图" style="left:116.8px;top:806.8px" width="60.200" height="16.800" fill="#eef2f4"><text x="0.440" y="14.390" font-size="15.600" font-weight="700" textLength="60.200" lengthAdjust="spacingAndGlyphs">深度图</text></svg>
<svg class="c" role="img" aria-label="展开" style="left:440.2px;top:806.6px" width="41.100" height="17" fill="#eef2f4"><text x="0.450" y="14.510" font-size="16.900" font-weight="500" textLength="40.600" lengthAdjust="spacingAndGlyphs">展开</text></svg>
<svg class="s" style="left:494.3px;top:809.3px;" width="16.5" height="9.6"><path d="M1 1.600L8.250 8 15.500 1.600" fill="none" stroke="#d3dbe0" stroke-width="2"/></svg>
<div class="r" style="left:0px;top:837px;width:525px;height:2.6px;background:#111a20;"></div>
<svg class="c" role="img" aria-label="买盘" style="left:21.8px;top:853px" width="29" height="14.200" fill="#4c5b65"><text x="0.250" y="12.130" font-size="13.100" font-weight="400" textLength="28.400" lengthAdjust="spacingAndGlyphs">买盘</text></svg>
<svg class="c" role="img" aria-label="数量" style="left:58px;top:853px" width="29" height="14.200" fill="#4c5b65"><text x="0.450" y="12.100" font-size="13.200" font-weight="400" textLength="28.200" lengthAdjust="spacingAndGlyphs">数量</text></svg>
<span class="t" style="left:86.53px;top:855px;font-size:12.7px;color:#4c5b65;letter-spacing:0.29px;transform:scaleX(1.100);transform-origin:0 0;">(BITP)</span>
<svg class="c" role="img" aria-label="价格" style="left:224.8px;top:853px" width="29" height="14.200" fill="#4c5b65"><text x="0.490" y="12.050" font-size="13.100" font-weight="400" textLength="27.800" lengthAdjust="spacingAndGlyphs">价格</text></svg>
<span class="t" style="left:253.35px;top:855px;font-size:12.7px;color:#4c5b65;transform:scaleX(1.086);transform-origin:0 0;">(USDT)</span>
<svg class="c" role="img" aria-label="数量" style="left:395.4px;top:853px" width="29.600" height="14.200" fill="#4c5b65"><text x="0.440" y="12.100" font-size="13.200" font-weight="400" textLength="28.800" lengthAdjust="spacingAndGlyphs">数量</text></svg>
<span class="t" style="left:424.53px;top:855px;font-size:12.7px;color:#4c5b65;letter-spacing:0.36px;transform:scaleX(1.100);transform-origin:0 0;">(BITP)</span>
<svg class="c" role="img" aria-label="卖盘" style="left:473.7px;top:853px" width="29.600" height="14.200" fill="#4c5b65"><text x="0.070" y="12.140" font-size="13.100" font-weight="400" textLength="29.200" lengthAdjust="spacingAndGlyphs">卖盘</text></svg>
<div class="r" style="left:0px;top:877.6px;width:525px;height:2px;background:#121b21;"></div>
<div class="r" style="left:236px;top:890.5px;width:55.5px;height:6px;background:#2b3a44;"></div>
<div class="r" style="left:0px;top:895.8px;width:207.6px;height:60.2px;background:#2bbfa9;"></div>
<div class="r" style="left:207.6px;top:895.8px;width:208.2px;height:60.2px;background:#e8625a;"></div>
<div class="r" style="left:415.8px;top:895.8px;width:109.2px;height:60.2px;background:#1b2f3c;"></div>
<svg class="c" role="img" aria-label="买入" style="left:81.7px;top:918px" width="42.900" height="18.200" fill="#f4fbfa"><text x="0.220" y="15.640" font-size="17.300" font-weight="700" textLength="42.100" lengthAdjust="spacingAndGlyphs">买入</text></svg>
<svg class="c" role="img" aria-label="卖出" style="left:290px;top:918px" width="42.800" height="18.200" fill="#fdf3f2"><text x="-0.160" y="15.590" font-size="17.200" font-weight="700" textLength="43.900" lengthAdjust="spacingAndGlyphs">卖出</text></svg>
<svg class="s" style="left:456px;top:904.6px;" width="29" height="27"><path d="M14.400 1.800C13.400 1.800 12.800 2.500 12.600 3.300C8.600 4.600 6.400 8 6.400 12V16.600C6.400 17.800 5.600 18.600 4.600 19.200L2 20.600C1.400 21 1.600 21.600 2.400 21.600H26.400C27.200 21.600 27.400 21 26.800 20.600L24.200 19.200C23.200 18.600 22.400 17.800 22.400 16.600V12C22.400 8 20.200 4.600 16.200 3.300C16 2.500 15.400 1.800 14.400 1.800Z" fill="none" stroke="#eef3f6" stroke-width="1.800" stroke-linejoin="round"/><path d="M9.600 22.600C10.400 24.600 12 25.600 14.400 25.600S18.400 24.600 19.200 22.600" fill="none" stroke="#eef3f6" stroke-width="1.700"/></svg>
<svg class="c" role="img" aria-label="提醒" style="left:455.2px;top:937px" width="30.100" height="13.200" fill="#f3f6f8"><text x="0.670" y="11.150" font-size="12" font-weight="700" textLength="28.800" lengthAdjust="spacingAndGlyphs">提醒</text></svg>
</div>
<div class="phone" id="right" style="left:532.2px;width:527.8px">
<div class="r" style="left:0px;top:0px;width:527.8px;height:956px;background:#1a2b33;"></div>
<svg class="s" style="left:41.8px;top:9px;" width="180" height="17"><rect x="1" y="2.300" width="14.800" height="10.800" rx="2" fill="#c5ccd0"/><path d="M4 4.800v5.800M7.600 4.800v5.800M4 7.700h3.600M10 4.900v5.600h1.400c3.200 0 3.200-5.600 0-5.600z" fill="none" stroke="#1b2a34" stroke-width="1.300"/><path d="M22 2v4.200M22 4.800h3.300M25.300 1.600v5M28.800 2.300c-2.600-.6-2.600 4.600 0 3.900v-2" fill="none" stroke="#c5ccd0" stroke-width="1.100"/><path d="M22.500 9.200v4M25 9.200v4" stroke="#c5ccd0" stroke-width="1.200"/><path d="M30 11.500h2v2.500h-2zM33.500 9h2.200v5h-2.200zM37.200 6h2.200v8h-2.200zM41 2.300h2.300V14H41z" fill="#c5ccd0"/><g fill="none" stroke="#c5ccd0" stroke-width="1.800"><path d="M53.500 13.300a7.300 6.500 0 1 1 12 0"/><path d="M56.200 11.500a3.800 3.500 0 1 1 6.600 0"/></g><circle cx="59.500" cy="9.800" r="1.300" fill="#c5ccd0"/></svg>
<span class="t" style="left:112px;top:9px;font-size:8.9px;color:#c5ccd0;transform:scaleX(0.900);transform-origin:0 0;">2</span>
<svg class="s" style="left:118.3px;top:10px;" width="100" height="15.5"><rect x=".5" y=".5" width="16.800" height="13.700" fill="#f4f8f8"/><path d="M2.800 2.800h12.200v2.500l-4.100 1.300v5.700H6.900V6.600L2.800 5.300z" fill="#25b5b0"/><rect x="21.300" y=".5" width="16.400" height="13.700" rx="3" fill="#f6f9fb"/><path d="M24 11.500c0-9 11-9 11 0h-3.200c0-4.500-4.600-4.500-4.600 0z" fill="#2a8fe0"/><rect x="42" y=".5" width="16.600" height="13.700" rx="2.500" fill="#e8361e"/><rect x="62.500" y=".5" width="16.800" height="13.700" rx="5.500" fill="#f6f9fb"/><circle cx="70.900" cy="7.400" r="5" fill="#2a7fe4"/><path d="M68 7.400l4.600-2.700v5.400z" fill="#dff0ff"/><rect x="84.500" y="1.500" width="13.800" height="11.400" rx="1" fill="#e9eef2"/><rect x="87" y="4.800" width="8.800" height="5" fill="#3f6fd8"/></svg>
<svg class="s" style="left:392.8px;top:8.5px;" width="60" height="16.5"><rect x="7" y="2.300" width="9.400" height="12" rx="1.400" fill="none" stroke="#c5ccd0" stroke-width="1.700"/><path d="M3.500 4l-1.300 1.500 1.300 1.500-1.300 1.500L3.500 10l-1.300 1.500 1.300 1.500M19.900 4l1.300 1.500-1.300 1.500 1.300 1.500-1.300 1.500 1.300 1.500-1.300 1.500" fill="none" stroke="#c5ccd0" stroke-width="1.400"/><rect x="28.900" y="2.600" width="25.600" height="11" rx="2" fill="none" stroke="#8e999f" stroke-width="1.300"/><rect x="30.900" y="4.600" width="9" height="7" fill="#c5ccd0"/><rect x="55.200" y="5.200" width="2" height="5.800" rx=".8" fill="#c5ccd0"/></svg>
<svg class="c" role="img" aria-label="听" style="left:161.5px;top:11.3px" width="14.300" height="12.100" fill="#fff"><text x="0.100" y="10.080" font-size="10.800" font-weight="700" textLength="13.900" lengthAdjust="spacingAndGlyphs">听</text></svg>
<span class="t" style="left:455.56px;top:10px;font-size:14.9px;color:#b9c2c7;transform:scaleX(1.080);transform-origin:0 0;">5:35</span>
<svg class="s" style="left:34px;top:57.5px;" width="16" height="20"><path d="M12.900 3.500 4.100 10l8.800 6.500" fill="none" stroke="#f2f5f7" stroke-width="2.100"/></svg>
<div class="r" style="left:83.4px;top:58.2px;width:1px;height:19.2px;background:#7d8a92;"></div>
<svg class="s" style="left:98.6px;top:58.3px;" width="23" height="19"><path d="M0 0h23v2.400H0zM11.500 8.200H23v2.400H11.500zM0 16.500h23v2.400H0zM.4 5.400l6.600 4-6.600 4.100z" fill="#eef2f5"/></svg>
<span class="t" style="left:135.72px;top:59px;font-size:20.7px;color:#dde7ed;letter-spacing:0.8px;font-weight:700;transform:scaleX(1.070);transform-origin:0 0;-webkit-text-stroke:.25px #dde7ed;">BITP/USDT</span>
<svg class="s" style="left:369.1px;top:56.7px;" width="26.3" height="22.6"><polygon points="13.15,0.9 16.94,7.75 25.4,8.84 19.28,14.17 20.72,21.7 13.15,18.15 5.58,21.7 7.02,14.17 0.9,8.84 9.36,7.75" fill="#16abbd" stroke="#16abbd" stroke-width="1.8" stroke-linejoin="round"/></svg>
<svg class="s" style="left:424.8px;top:57px;" width="26" height="21"><path d="M11.600 4.300H3.600A2.600 2.600 0 0 0 1 6.900v10.300a2.600 2.600 0 0 0 2.600 2.600h15.500a2.600 2.600 0 0 0 2.600-2.600v-3.400" fill="none" stroke="#dbe3e8" stroke-width="2"/><path d="M16.300 1.500l7.600 5.800-7.600 5.800v-3.500c-4.200-.1-7.200 1.100-9.700 4.300.7-5.300 4-8.700 9.700-9.100z" fill="none" stroke="#dbe3e8" stroke-width="1.800" stroke-linejoin="round"/></svg>
<svg class="s" style="left:480.6px;top:57.8px;" width="25" height="20"><g fill="#dbe3e8" stroke="#dbe3e8" stroke-width="2.500"><path d="M2.800 2.400l6 5" fill="none"/><path d="M.2.200h6.600L.2 6.300z" stroke="none"/><path d="M22.200 2.400l-6 5" fill="none"/><path d="M24.800.2h-6.600l6.600 6.100z" stroke="none"/><path d="M2.800 17.600l6-5" fill="none"/><path d="M.2 19.800h6.600L.2 13.700z" stroke="none"/><path d="M22.200 17.600l-6-5" fill="none"/><path d="M24.800 19.800h-6.600l6.600-6.100z" stroke="none"/></g></svg>
<span class="t" style="left:22.32px;top:108px;font-size:34.4px;color:#31c6ae;letter-spacing:0.9px;transform:scaleX(1.100);transform-origin:0 0;-webkit-text-stroke:.7px #31c6ae;">0.635</span>
<svg class="s" style="left:135px;top:114.6px;" width="21" height="21.4"><path d="M10.500 20.600V2.600M1.600 11.500L10.500 2.400 19.400 11.500" fill="none" stroke="#31c6ae" stroke-width="2.600"/></svg>
<span class="t" style="left:22.82px;top:153px;font-size:15.8px;color:#c9d2d7;transform:scaleX(1.043);transform-origin:0 0;-webkit-text-stroke:.25px #c9d2d7;">¥ 4.18</span>
<span class="t" style="left:83.46px;top:152px;font-size:17.5px;color:#31c6ae;letter-spacing:0.01px;transform:scaleX(1.100);transform-origin:0 0;-webkit-text-stroke:.4px #31c6ae;">+10.19%</span>
<svg class="c" role="img" aria-label="今日最高" style="left:300px;top:108px" width="64.800" height="13.600" fill="#55646e"><text x="0.520" y="11.520" font-size="12.300" font-weight="500" textLength="64.300" lengthAdjust="spacingAndGlyphs">今日最高</text></svg>
<svg class="c" role="img" aria-label="今日最低" style="left:300px;top:131px" width="64.800" height="13.600" fill="#55646e"><text x="0.520" y="11.500" font-size="12.300" font-weight="500" textLength="63.700" lengthAdjust="spacingAndGlyphs">今日最低</text></svg>
<span class="t" style="left:300.35px;top:152px;font-size:15.3px;color:#55646e;letter-spacing:0.11px;transform:scaleX(1.100);transform-origin:0 0;-webkit-text-stroke:.2px #55646e;">24H</span>
<svg class="c" role="img" aria-label="量" style="left:330.8px;top:153.4px" width="14.600" height="13.600" fill="#55646e"><text x="0.360" y="11.800" font-size="13.300" font-weight="500" textLength="13.800" lengthAdjust="spacingAndGlyphs">量</text></svg>
<span class="t" style="left:449.4px;top:105px;font-size:16.2px;color:#eef2f4;letter-spacing:0.38px;transform:scaleX(1.100);transform-origin:0 0;-webkit-text-stroke:.15px #eef2f4;">0.6352</span>
<span class="t" style="left:469.4px;top:128px;font-size:16.2px;color:#eef2f4;letter-spacing:0.53px;transform:scaleX(1.100);transform-origin:0 0;-webkit-text-stroke:.15px #eef2f4;">0.55</span>
<span class="t" style="left:438.89px;top:150px;font-size:16.2px;color:#eef2f4;letter-spacing:0.39px;transform:scaleX(1.100);transform-origin:0 0;-webkit-text-stroke:.15px #eef2f4;">741,106</span>
<svg class="c" role="img" aria-label="分时" style="left:24.6px;top:191.6px" width="39.500" height="16.600" fill="#1cb0c3"><text x="0.240" y="14.230" font-size="15.800" font-weight="500" textLength="38.900" lengthAdjust="spacingAndGlyphs">分时</text></svg>
<span class="t" style="left:91.61px;top:192px;font-size:17.4px;color:#55646e;letter-spacing:-0.41px;transform:scaleX(0.900);transform-origin:0 0;-webkit-text-stroke:.2px #55646e;">15</span>
<svg class="c" role="img" aria-label="分" style="left:110.6px;top:191.6px" width="19.800" height="16.600" fill="#55646e"><text x="0.250" y="14.210" font-size="15.900" font-weight="500" textLength="19.200" lengthAdjust="spacingAndGlyphs">分</text></svg>
<span class="t" style="left:159px;top:192px;font-size:17.4px;color:#55646e;-webkit-text-stroke:.2px #55646e;">4</span>
<svg class="c" role="img" aria-label="小时" style="left:169.6px;top:191.6px" width="37" height="16.600" fill="#55646e"><text x="0.490" y="14.270" font-size="15.800" font-weight="500" textLength="36.100" lengthAdjust="spacingAndGlyphs">小时</text></svg>
<svg class="c" role="img" aria-label="日线" style="left:236.1px;top:191.6px" width="37" height="16.600" fill="#55646e"><text x="-2.250" y="14.310" font-size="15.700" font-weight="500" textLength="38.900" lengthAdjust="spacingAndGlyphs">日线</text></svg>
<svg class="c" role="img" aria-label="更多" style="left:299.1px;top:191.6px" width="37.500" height="16.600" fill="#55646e"><text x="0.200" y="14.250" font-size="15.700" font-weight="500" textLength="37.300" lengthAdjust="spacingAndGlyphs">更多</text></svg>
<span class="t" style="left:378.35px;top:192px;font-size:17.7px;color:#55646e;letter-spacing:0.24px;-webkit-text-stroke:.2px #55646e;">MA</span>
<svg class="c" role="img" aria-label="副图" style="left:447.6px;top:191.6px" width="37.700" height="16.600" fill="#55646e"><text x="-0.010" y="14.240" font-size="16" font-weight="500" textLength="38.200" lengthAdjust="spacingAndGlyphs">副图</text></svg>
<svg class="s" style="left:346.6px;top:201.5px;" width="6.7" height="6"><path d="M6.700 0V6H0Z" fill="#55646e"/></svg>
<svg class="s" style="left:415.8px;top:201.5px;" width="6.5" height="6"><path d="M6.500 0V6H0Z" fill="#55646e"/></svg>
<svg class="s" style="left:495.1px;top:201.5px;" width="7" height="6"><path d="M7 0V6H0Z" fill="#55646e"/></svg>
<div class="r" style="left:23.6px;top:225.2px;width:41.8px;height:3.2px;background:#1cb0c3;border-radius:1.5px;"></div>
<div class="r" style="left:0px;top:228.5px;width:527.8px;height:489px;background:#101d25;"></div>
<div class="r" style="left:0px;top:717.4px;width:527.8px;height:10px;background:#0d161c;"></div>
<svg class="s" style="left:0px;top:228.5px;" width="527.8" height="489" viewBox="532.2 228.5 527.8 489"><defs><linearGradient id="ar" x1="0" y1="279" x2="0" y2="694" gradientUnits="userSpaceOnUse"><stop offset="0" stop-color="#20505d"/><stop offset=".55" stop-color="#1e4552"/><stop offset="1" stop-color="#172b36"/></linearGradient></defs><path d="M537 523 L553.750 523 L560 524.250 L646.250 524.250 L648.750 525.500 L655.750 566.750 L663 525.500 L670.500 566.750 L678 524.250 L685.750 524.250 L693 566.750 L700.500 566.750 L707.500 516.750 L715 514.250 L722.500 514.250 L730 513 L737 508.900 L759.300 508.900 L766.900 468.700 L796.600 468.700 L804.200 472.900 L811.200 474.700 L818.500 473.200 L826.500 478.500 L833.900 488 L841.100 482 L848.700 477.400 L856.200 472.900 L862 462.600 L864.500 453.600 L870 426.500 L879 398 L885.500 354.750 L907.500 354.750 L915 280 L922.750 304.500 L930 280 L937.500 340 L944.500 280 L952 279.800 L960 279.750 L960 694 L537 694Z" fill="url(#ar)"/><g stroke="#fff" stroke-opacity=".085" stroke-width="1" shape-rendering="crispEdges"><path d="M644.600 228.500V693.800"/><path d="M748.500 228.500V693.800"/><path d="M852.800 228.500V693.800"/><path d="M956.300 228.500V693.800"/><path d="M540.500 339H1060"/><path d="M540.500 427.400H1060"/><path d="M540.500 516H1060"/><path d="M540.500 605.300H1060"/><path d="M540.500 693.800H1060"/><path d="M540.500 256H1060" opacity=".55"/></g><rect x="534.350" y="691.600" width="5.700" height="2" fill="#2ea99c"/><rect x="541.760" y="691.600" width="5.700" height="2" fill="#2ea99c"/><rect x="549.180" y="692" width="5.700" height="1.600" fill="#256f70"/><rect x="556.590" y="690.800" width="5.700" height="2.800" fill="#2ea99c"/><rect x="564" y="692" width="5.700" height="1.600" fill="#256f70"/><rect x="571.420" y="692" width="5.700" height="1.600" fill="#7b4a4e"/><rect x="578.830" y="692.400" width="5.700" height="1.200" fill="#256f70"/><rect x="586.240" y="690.800" width="5.700" height="2.800" fill="#2ea99c"/><rect x="593.650" y="692.600" width="5.700" height="1" fill="#256f70"/><rect x="601.070" y="693" width="5.700" height="0.600" fill="#256f70"/><rect x="608.480" y="692.400" width="5.700" height="1.200" fill="#7b4a4e"/><rect x="615.890" y="691.600" width="5.700" height="2" fill="#2ea99c"/><rect x="623.310" y="691.600" width="5.700" height="2" fill="#2ea99c"/><rect x="630.720" y="692.600" width="5.700" height="1" fill="#256f70"/><rect x="645.550" y="691.600" width="5.700" height="2" fill="#d9605a"/><rect x="652.960" y="691.200" width="5.700" height="2.400" fill="#d9605a"/><rect x="660.370" y="691.600" width="5.700" height="2" fill="#2ea99c"/><rect x="667.780" y="692" width="5.700" height="1.600" fill="#7b4a4e"/><rect x="675.200" y="689.100" width="5.700" height="4.500" fill="#2ea99c"/><rect x="682.610" y="691.200" width="5.700" height="2.400" fill="#2ea99c"/><rect x="690.020" y="692" width="5.700" height="1.600" fill="#7b4a4e"/><rect x="697.440" y="684.500" width="5.700" height="9.100" fill="#d9605a"/><rect x="704.850" y="687.900" width="5.700" height="5.700" fill="#2ea99c"/><rect x="712.260" y="667.400" width="5.700" height="26.200" fill="#2ea99c"/><rect x="727.090" y="664.100" width="5.700" height="29.500" fill="#2ea99c"/><rect x="734.500" y="657.600" width="5.700" height="36" fill="#2ea99c"/><rect x="756.740" y="638.300" width="5.700" height="55.300" fill="#2ea99c"/><rect x="764.150" y="679.100" width="5.700" height="14.500" fill="#2ea99c"/><rect x="771.570" y="690.200" width="5.700" height="3.400" fill="#2ea99c"/><rect x="778.980" y="692" width="5.700" height="1.600" fill="#256f70"/><rect x="786.390" y="692" width="5.700" height="1.600" fill="#256f70"/><rect x="793.800" y="692.800" width="5.700" height="0.800" fill="#256f70"/><rect x="801.220" y="692.800" width="5.700" height="0.800" fill="#256f70"/><rect x="808.630" y="692" width="5.700" height="1.600" fill="#2ea99c"/><rect x="816.040" y="691.600" width="5.700" height="2" fill="#2ea99c"/><rect x="823.460" y="692.800" width="5.700" height="0.800" fill="#7b4a4e"/><rect x="830.870" y="691.600" width="5.700" height="2" fill="#d9605a"/><rect x="838.280" y="692.400" width="5.700" height="1.200" fill="#7b4a4e"/><rect x="845.700" y="692.400" width="5.700" height="1.200" fill="#7b4a4e"/><rect x="853.110" y="692" width="5.700" height="1.600" fill="#2ea99c"/><rect x="860.520" y="619.600" width="5.700" height="74" fill="#2ea99c"/><rect x="867.940" y="678.200" width="5.700" height="15.400" fill="#2ea99c"/><rect x="875.350" y="674.800" width="5.700" height="18.800" fill="#2ea99c"/><rect x="882.760" y="690.600" width="5.700" height="3" fill="#2ea99c"/><rect x="890.170" y="693.300" width="5.700" height="0.300" fill="#256f70"/><rect x="897.590" y="693.300" width="5.700" height="0.300" fill="#256f70"/><rect x="905" y="692" width="5.700" height="1.600" fill="#256f70"/><rect x="912.410" y="680.800" width="5.700" height="12.800" fill="#2ea99c"/><rect x="919.830" y="692.400" width="5.700" height="1.200" fill="#7b4a4e"/><rect x="934.650" y="692" width="5.700" height="1.600" fill="#d9605a"/><rect x="942.070" y="692" width="5.700" height="1.600" fill="#256f70"/><rect x="949.480" y="690.200" width="5.700" height="3.400" fill="#2ea99c"/><rect x="956.890" y="692.600" width="5.700" height="1" fill="#7b4a4e"/><rect x="558.600" y="540.400" width="37.600" height="3" fill="rgba(40,170,185,0.5)"/><rect x="562.200" y="545.800" width="29.900" height="2.700" fill="rgba(40,170,185,0.5)"/><rect x="571.500" y="550.600" width="11.700" height="2.700" fill="rgba(40,170,185,0.5)"/><rect x="571.100" y="555.600" width="11.500" height="2.700" fill="rgba(40,170,185,0.5)"/><rect x="570.600" y="560.500" width="11.300" height="2.700" fill="rgba(40,170,185,0.5)"/><rect x="569.400" y="565.500" width="11.400" height="2.700" fill="rgba(40,170,185,0.5)"/><text x="601.200" y="564" font-family="Liberation Sans, sans-serif" font-weight="700" font-size="25.500" textLength="124" lengthAdjust="spacingAndGlyphs" fill="rgba(140,160,175,0.3)" stroke="rgba(140,160,175,0.3)" stroke-width=".6">ZT Global</text><polyline points="537,523 553.75,523 560,524.25 646.25,524.25 648.75,525.5 655.75,566.75 663,525.5 670.5,566.75 678,524.25 685.75,524.25 693,566.75 700.5,566.75 707.5,516.75 715,514.25 722.5,514.25 730,513 737,508.9 759.3,508.9 766.9,468.7 796.6,468.7 804.2,472.9 811.2,474.7 818.5,473.2 826.5,478.5 833.9,488 841.1,482 848.7,477.4 856.2,472.9 862,462.6 864.5,453.6 870,426.5 879,398 885.5,354.75 907.5,354.75 915,280 922.75,304.5 930,280 937.5,340 944.5,280 952,279.8 960,279.75" fill="none" stroke="#27b1c2" stroke-width="1.600" stroke-linejoin="round"/><path d="M961 280.700H1016" fill="none" stroke="#27777a" stroke-width="1" stroke-dasharray="3.500 3.500"/></svg>
<span class="t" style="left:478.15px;top:235px;font-size:10.6px;color:#5d6a72;transform:scaleX(1.080);transform-origin:0 0;">0.6411</span>
<span class="t" style="left:478.16px;top:325px;font-size:10.3px;color:#5d6a72;letter-spacing:0.07px;transform:scaleX(1.100);transform-origin:0 0;">0.6232</span>
<span class="t" style="left:478.15px;top:413px;font-size:10.6px;color:#5d6a72;transform:scaleX(1.078);transform-origin:0 0;">0.6053</span>
<span class="t" style="left:478.15px;top:502px;font-size:10.6px;color:#5d6a72;transform:scaleX(1.078);transform-origin:0 0;">0.5873</span>
<span class="t" style="left:478.16px;top:591px;font-size:10.6px;color:#5d6a72;transform:scaleX(1.073);transform-origin:0 0;">0.5694</span>
<span class="t" style="left:477.54px;top:609px;font-size:10.6px;color:#5d6a72;transform:scaleX(1.047);transform-origin:0 0;">21.71K</span>
<span class="t" style="left:477.25px;top:646px;font-size:10.6px;color:#5d6a72;transform:scaleX(1.056);transform-origin:0 0;">10.85K</span>
<div class="r" style="left:484.3px;top:275.4px;width:43.5px;height:10.8px;background:#19232e;"></div>
<span class="t" style="left:485.14px;top:276px;font-size:11.2px;color:#f4f6f7;font-weight:700;transform:scaleX(1.034);transform-origin:0 0;">0.6350</span>
<span class="t" style="left:9.24px;top:608px;font-size:12px;color:#97a2a9;letter-spacing:0.36px;transform:scaleX(1.100);transform-origin:0 0;">VOL:108.01</span>
<span class="t" style="left:96.22px;top:608px;font-size:12px;color:#f0f3f5;letter-spacing:0.71px;transform:scaleX(1.100);transform-origin:0 0;-webkit-text-stroke:.2px #f0f3f5;">MA5:315.71</span>
<span class="t" style="left:187.52px;top:608px;font-size:12px;color:#dcc981;letter-spacing:0.86px;transform:scaleX(1.100);transform-origin:0 0;-webkit-text-stroke:.2px #dcc981;">MA10:585.54</span>
<span class="t" style="left:-21.06px;top:701px;font-size:10.5px;color:#6b7981;transform:scaleX(1.078);transform-origin:0 0;">10-24 16:39</span>
<span class="t" style="left:82.54px;top:701px;font-size:10.5px;color:#6b7981;transform:scaleX(1.078);transform-origin:0 0;">10-24 16:52</span>
<span class="t" style="left:186.04px;top:701px;font-size:10.5px;color:#6b7981;transform:scaleX(1.077);transform-origin:0 0;">10-24 17:06</span>
<span class="t" style="left:290.54px;top:701px;font-size:10.5px;color:#6b7981;transform:scaleX(1.076);transform-origin:0 0;">10-24 17:20</span>
<span class="t" style="left:393.94px;top:701px;font-size:10.5px;color:#6b7981;transform:scaleX(1.074);transform-origin:0 0;">10-24 17:34</span>
<svg class="c" role="img" aria-label="深度" style="left:67.5px;top:749.8px" width="41.100" height="18" fill="#1cb0c3"><text x="0.440" y="15.490" font-size="16.900" font-weight="700" textLength="40.200" lengthAdjust="spacingAndGlyphs">深度</text></svg>
<svg class="c" role="img" aria-label="成交" style="left:243.3px;top:749.8px" width="41.100" height="18" fill="#55646e"><text x="0.490" y="15.310" font-size="16.600" font-weight="700" textLength="40.400" lengthAdjust="spacingAndGlyphs">成交</text></svg>
<svg class="c" role="img" aria-label="简介" style="left:419.5px;top:749.8px" width="41.100" height="18" fill="#55646e"><text x="0.400" y="15.470" font-size="16.800" font-weight="700" textLength="39.900" lengthAdjust="spacingAndGlyphs">简介</text></svg>
<div class="r" style="left:65.8px;top:783.3px;width:44px;height:3.9px;background:#1cb0c3;"></div>
<span class="t" style="left:14.31px;top:817px;font-size:17.7px;color:#eef2f4;font-weight:700;transform:scaleX(1.092);transform-origin:0 0;">BITP/USDT</span>
<svg class="c" role="img" aria-label="深度图" style="left:116.6px;top:816.6px" width="61.600" height="17" fill="#eef2f4"><text x="0.420" y="14.570" font-size="15.800" font-weight="700" textLength="61.600" lengthAdjust="spacingAndGlyphs">深度图</text></svg>
<svg class="c" role="img" aria-label="展开" style="left:442.5px;top:816.4px" width="41.100" height="17.200" fill="#eef2f4"><text x="0.450" y="14.690" font-size="17.200" font-weight="500" textLength="40.600" lengthAdjust="spacingAndGlyphs">展开</text></svg>
<svg class="s" style="left:497.1px;top:819px;" width="16.2" height="9.6"><path d="M1 1.600L8.100 8 15.200 1.600" fill="none" stroke="#d3dbe0" stroke-width="2"/></svg>
<div class="r" style="left:0px;top:845.8px;width:208.6px;height:61.3px;background:#2bbfa9;"></div>
<div class="r" style="left:208.6px;top:845.8px;width:209.3px;height:61.3px;background:#e8625a;"></div>
<div class="r" style="left:417.9px;top:845.8px;width:110px;height:61.3px;background:#1b2f3c;"></div>
<svg class="c" role="img" aria-label="买入" style="left:82px;top:868.6px" width="43.600" height="18.200" fill="#f4fbfa"><text x="0.210" y="15.640" font-size="17.300" font-weight="700" textLength="42.900" lengthAdjust="spacingAndGlyphs">买入</text></svg>
<svg class="c" role="img" aria-label="卖出" style="left:291.5px;top:868.6px" width="42.900" height="18" fill="#fdf3f2"><text x="-0.170" y="15.410" font-size="17" font-weight="700" textLength="44" lengthAdjust="spacingAndGlyphs">卖出</text></svg>
<svg class="s" style="left:458.4px;top:854.2px;" width="29" height="27"><path d="M14.400 1.800C13.400 1.800 12.800 2.500 12.600 3.300C8.600 4.600 6.400 8 6.400 12V16.600C6.400 17.800 5.600 18.600 4.600 19.200L2 20.600C1.400 21 1.600 21.600 2.400 21.600H26.400C27.200 21.600 27.400 21 26.800 20.600L24.200 19.200C23.200 18.600 22.400 17.800 22.400 16.600V12C22.400 8 20.200 4.600 16.200 3.300C16 2.500 15.400 1.800 14.400 1.800Z" fill="none" stroke="#eef3f6" stroke-width="1.800" stroke-linejoin="round"/><path d="M9.600 22.600C10.400 24.600 12 25.600 14.400 25.600S18.400 24.600 19.200 22.600" fill="none" stroke="#eef3f6" stroke-width="1.700"/></svg>
<svg class="c" role="img" aria-label="提醒" style="left:457.5px;top:888px" width="29.900" height="12.800" fill="#f3f6f8"><text x="0.670" y="10.790" font-size="11.500" font-weight="700" textLength="28.600" lengthAdjust="spacingAndGlyphs">提醒</text></svg>
<svg class="s" style="left:127.8px;top:915px;" width="270" height="34"><g fill="none" stroke="#c3c9cd" stroke-width="2.100" stroke-linejoin="round"><path d="M32.600 7.200v18.400L13.900 16.400z"/><ellipse cx="136.300" cy="16.500" rx="11.600" ry="9.400"/><rect x="238" y="8.500" width="19.800" height="16" rx="1"/></g></svg>
</div>
</body></html>
